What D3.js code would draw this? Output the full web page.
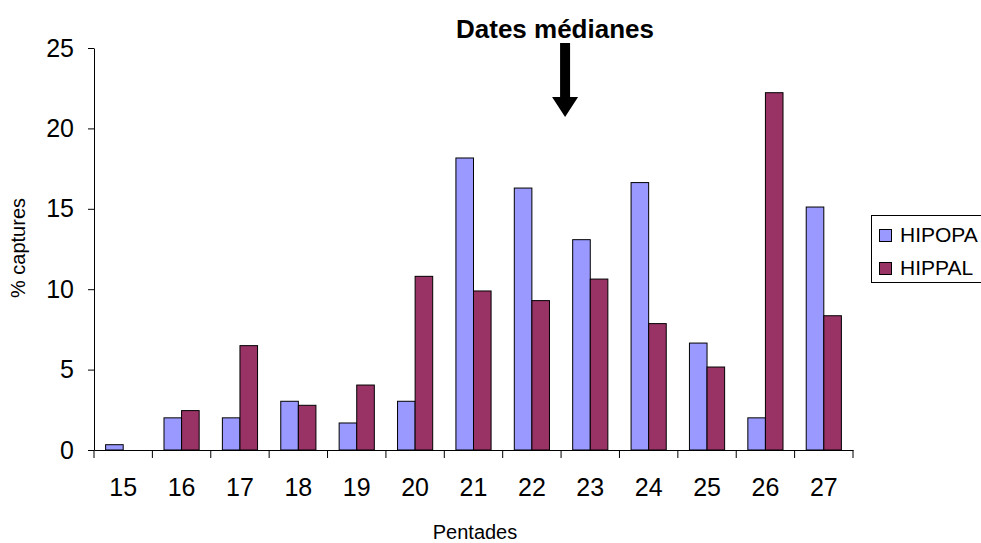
<!DOCTYPE html>
<html>
<head>
<meta charset="utf-8">
<script src="https://cdn.jsdelivr.net/npm/d3@7"></script>
<style>
  html, body { margin: 0; padding: 0; background: #fff; }
  svg { display: block; font-family: Arial, "Liberation Sans", sans-serif; }
</style>
</head>
<body>
<svg id="chart" width="981" height="543"></svg>
<script>
const categories = ["15","16","17","18","19","20","21","22","23","24","25","26","27"];
const seriesNames = ["HIPOPA","HIPPAL"];
const hipopa = [0.33, 2.0, 2.0, 3.03, 1.68, 3.03, 18.16, 16.29, 13.08, 16.63, 6.65, 2.0, 15.11];
const hippal = [0, 2.45, 6.49, 2.78, 4.04, 10.8, 9.89, 9.29, 10.63, 7.86, 5.16, 22.22, 8.35];
const yTicks = [0, 5, 10, 15, 20, 25];
const colors = ["#9999FF", "#993366"];
const title = "Dates médianes";
const xTitle = "Pentades";
const yTitle = "% captures";
const medianCategory = "23";

const svg = d3.select("#chart");
const mLeft = 94, mRight = 853, mTop = 48, mBottom = 450;

const x = d3.scaleBand().domain(categories).range([mLeft, mRight]).padding(0);
const xSub = d3.scaleBand().domain(seriesNames).range([0, x.bandwidth()]).paddingInner(0).paddingOuter(0.66);
const y = d3.scaleLinear().domain([0, 25]).range([mBottom, mTop]);

const data = categories.map((c, i) => ({ cat: c, values: [hipopa[i], hippal[i]] }));

// Bars
const groups = svg.append("g").selectAll("g").data(data).join("g")
  .attr("transform", d => `translate(${x(d.cat)},0)`);
groups.selectAll("rect").data(d => d.values.map((v, j) => ({ v, s: seriesNames[j], j })).filter(e => e.v > 0))
  .join("rect")
  .attr("x", e => xSub(e.s))
  .attr("y", e => y(e.v))
  .attr("width", xSub.bandwidth())
  .attr("height", e => y(0) - y(e.v))
  .attr("fill", e => colors[e.j])
  .attr("stroke", "#000")
  .attr("stroke-width", 1);

// Y axis
const yAxis = svg.append("g").attr("transform", `translate(${mLeft},0)`)
  .call(d3.axisLeft(y).tickValues(yTicks).tickSize(6).tickPadding(14).tickSizeOuter(0));
yAxis.selectAll("text").attr("font-size", 25).attr("fill", "#000").attr("font-family", "Arial, 'Liberation Sans', sans-serif");
yAxis.selectAll("line, path").attr("stroke", "#000");

// X axis
const xAxis = svg.append("g").attr("transform", `translate(0,${mBottom})`)
  .call(d3.axisBottom(x).tickSize(0).tickPadding(28).tickSizeOuter(0));
xAxis.selectAll("text").attr("font-size", 25).attr("fill", "#000").attr("font-family", "Arial, 'Liberation Sans', sans-serif");
xAxis.select("path").attr("stroke", "#000");
// category boundary ticks
xAxis.selectAll("line.bound").data(categories.concat(["end"])).join("line")
  .attr("class", "bound")
  .attr("x1", (d, i) => i < categories.length ? x(d) : x.range()[1])
  .attr("x2", (d, i) => i < categories.length ? x(d) : x.range()[1])
  .attr("y1", 0).attr("y2", 8)
  .attr("stroke", "#000");

// Axis titles
svg.append("text").attr("x", 475).attr("y", 539)
  .attr("text-anchor", "middle").attr("font-size", 20).text(xTitle);
svg.append("text").attr("transform", `translate(25,248) rotate(-90)`)
  .attr("text-anchor", "middle").attr("font-size", 20).text(yTitle);

// Title
svg.append("text").attr("x", 555).attr("y", 38)
  .attr("text-anchor", "middle").attr("font-size", 26).attr("font-weight", "bold").text(title);

// Arrow
const ax = x(medianCategory) + 4;
const arrow = d3.path();
arrow.moveTo(ax - 5, 43);
arrow.lineTo(ax + 5, 43);
arrow.lineTo(ax + 5, 97);
arrow.lineTo(ax + 13, 97);
arrow.lineTo(ax, 117);
arrow.lineTo(ax - 13, 97);
arrow.lineTo(ax - 5, 97);
arrow.closePath();
svg.append("path").attr("d", arrow.toString()).attr("fill", "#000");

// Legend
const lg = svg.append("g");
lg.append("rect").attr("x", 871.5).attr("y", 215.5).attr("width", 130).attr("height", 67)
  .attr("fill", "#fff").attr("stroke", "#000");
seriesNames.forEach((s, i) => {
  const yy = 229 + i * 33;
  lg.append("rect").attr("x", 879.5).attr("y", yy + 0.5).attr("width", 12).attr("height", 12)
    .attr("fill", colors[i]).attr("stroke", "#000");
  lg.append("text").attr("x", 900).attr("y", yy + 13).attr("font-size", 21).text(s);
});
</script>
</body>
</html>
